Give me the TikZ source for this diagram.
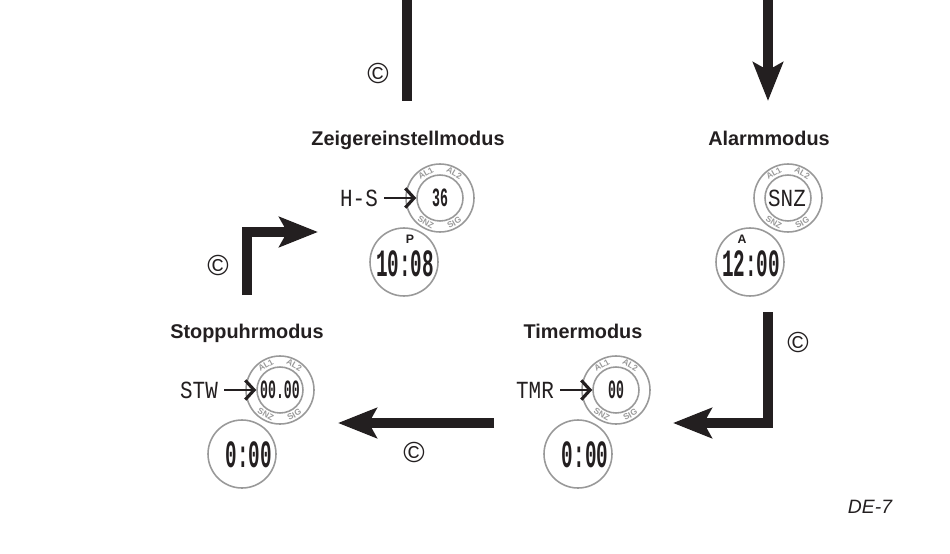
\documentclass[tikz,border=0pt]{standalone}
\usepackage{fontspec}
\setmainfont{Liberation Sans}
\newfontfamily\lcdfont[FakeStretch=0.5]{Liberation Mono}
\newfontfamily\lcdwide[FakeStretch=0.85]{Liberation Mono}
\usetikzlibrary{arrows.meta}

\definecolor{inkblack}{HTML}{231F20}
\definecolor{dialgray}{HTML}{999999}

\tikzset{
    title/.style={font=\bfseries\fontsize{11.3}{12}\selectfont, text=inkblack, anchor=base, inner sep=0pt},
    dial/.style={circle, draw=dialgray, line width=0.9pt, minimum size=1.36cm, inner sep=0pt},
    inring/.style={circle, draw=dialgray, line width=0.9pt, minimum size=0.92cm, inner sep=0pt},
    ringmark/.style={font=\bfseries\fontsize{4.8}{5}\selectfont, text=dialgray, inner sep=0pt},
    button/.style={font=\fontsize{16.5}{17}\selectfont, text=inkblack, inner sep=0pt},
    bigtime/.style={font=\lcdfont\bfseries\fontsize{22}{22}\selectfont, text=inkblack, inner sep=0pt},
    smalltime/.style={font=\lcdfont\bfseries\fontsize{15}{15}\selectfont, text=inkblack, inner sep=0pt},
    lcdlabel/.style={font=\lcdwide\fontsize{14}{14}\selectfont, text=inkblack, inner sep=0pt},
    indicator/.style={font=\bfseries\fontsize{7}{7}\selectfont, text=inkblack, inner sep=0pt},
    fatline/.style={draw=inkblack, line width=5.6pt},
    fatarrow/.style={fatline, -{Stealth[length=22pt, width=17pt, inset=4.5pt]}},
    thinarrow/.style={draw=inkblack, line width=1.5pt, -{Straight Barb[length=5pt, width=11pt, line width=1.8pt]}},
}

% ring dial: name, position, text in the middle
\newcommand{\ringdial}[3]{
    \node[dial] (#1outer) at (#2) {};
    \node[inring] (#1inner) at (#2) {};
    \node[smalltime] (#1text) at (#2) {#3};
    \node[ringmark, rotate=30] (#1alone) at ([shift={(-120:28.5)}]#2) {AL1};
    \node[ringmark, rotate=-30] (#1altwo) at ([shift={(-60:28.5)}]#2) {AL2};
    \node[ringmark, rotate=-30] (#1snz) at ([shift={(-240:28.5)}]#2) {SNZ};
    \node[ringmark, rotate=30] (#1sig) at ([shift={(-300:28.5)}]#2) {SIG};
}

\begin{document}
\begin{tikzpicture}[x=0.02cm, y=-0.02cm]
    \useasboundingbox (0, 0) rectangle (950, 554);

    \node[title] (zeiger) at (408, 146) {Zeigereinstellmodus};
    \node[title] (alarm) at (769, 146) {Alarmmodus};
    \node[title] (stopp) at (247, 338) {Stoppuhrmodus};
    \node[title] (timer) at (583, 338) {Timermodus};

    \ringdial{zeiger}{440, 198}{36}
    \ringdial{alarm}{788, 198}{}
    \ringdial{stopp}{280, 390}{00.00}
    \ringdial{timer}{616, 390}{00}
    \node[lcdlabel] (alarmsnz) at (787, 198) {SNZ};

    \node[dial] (zeigertime) at (404, 262) {};
    \node[dial] (alarmtime) at (750, 262) {};
    \node[dial] (stopptime) at (242, 454) {};
    \node[dial] (timertime) at (578, 454) {};
    \node[bigtime] (zeigerclock) at (405, 264) {10:08};
    \node[bigtime] (alarmclock) at (751, 264) {12:00};
    \node[bigtime] (stoppclock) at (249, 455) {0:00};
    \node[bigtime] (timerclock) at (585, 455) {0:00};
    \node[indicator] (pm) at (410, 239) {P};
    \node[indicator] (am) at (742, 239) {A};

    \node[lcdlabel] (hs) at (359, 198) {H-S};
    \node[lcdlabel] (stw) at (199, 390) {STW};
    \node[lcdlabel] (tmr) at (535, 390) {TMR};
    \draw[thinarrow] (hs.east) ++(6, 0) -- (zeigerinner);
    \draw[thinarrow] (stw.east) ++(6, 0) -- (stoppinner);
    \draw[thinarrow] (tmr.east) ++(6, 0) -- (timerinner);

    \node[button] (ctop) at (378, 73) {©};
    \node[button] (cleft) at (218, 265) {©};
    \node[button] (cright) at (798, 342) {©};
    \node[button] (cbottom) at (414, 452) {©};

    \coordinate (topleft) at (407, 0);
    \coordinate (leftend) at (407, 101);
    \coordinate (topright) at (768, 0);
    \coordinate (rightend) at (768, 101);
    \coordinate (stoppup) at (247, 295);
    \coordinate (stoppcorner) at (247, 232);
    \coordinate (zeigerin) at (318, 232);
    \coordinate (alarmdown) at (768, 312);
    \coordinate (alarmcorner) at (768, 423);
    \coordinate (timerin) at (673, 423);
    \coordinate (timerout) at (494, 423);
    \coordinate (stoppin) at (338, 423);

    \draw[fatline] (topleft) -- (leftend);
    \draw[fatarrow] (topright) -- (rightend);
    \draw[fatarrow] (stoppup) -- (stoppcorner) -- (zeigerin);
    \draw[fatarrow] (alarmdown) -- (alarmcorner) -- (timerin);
    \draw[fatarrow] (timerout) -- (stoppin);

    \node[font=\itshape\fontsize{11}{12}\selectfont, text=inkblack, inner sep=0pt] (page) at (870, 507) {DE-7};
\end{tikzpicture}
\end{document}
